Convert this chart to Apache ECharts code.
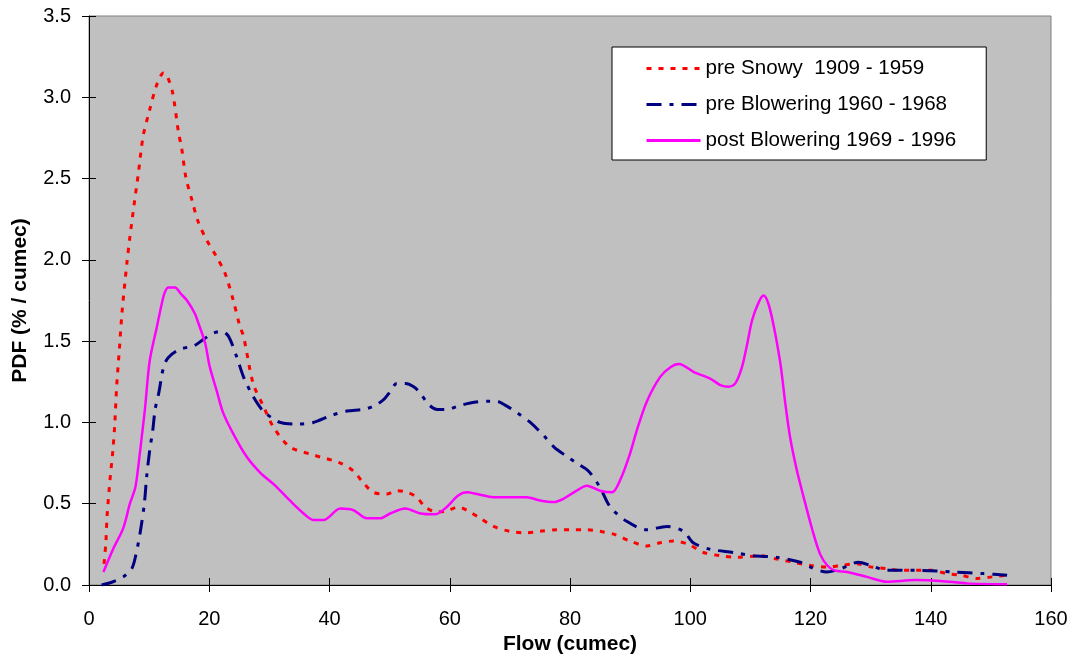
<!DOCTYPE html>
<html>
<head>
<meta charset="utf-8">
<script src="https://cdn.jsdelivr.net/npm/echarts@6/dist/echarts.min.js"></script>
<style>
  html, body { margin: 0; padding: 0; background: #fff; }
  #chart { width: 1074px; height: 664px; }
</style>
</head>
<body>
<div id="chart"></div>
<script>
// Flow duration PDFs for three periods of record
const seriesNames = ['pre Snowy  1909 - 1959', 'pre Blowering 1960 - 1968', 'post Blowering 1969 - 1996'];

const flowSnowy = [2.5, 2.8, 3.0, 3.5, 4.0, 4.3, 4.6, 5.05, 5.5, 6.3, 6.8, 7.5, 8.2, 9.0, 10.0, 11.3, 12.4, 13.0, 13.9, 14.9, 15.4, 16.1, 17.1, 18.2, 19.6, 21.2, 22.6, 24.0, 25.1, 25.7, 27.3, 29.0, 30.7, 33.4, 37.3, 41.8, 44.0, 45.6, 47.3, 49.5, 51.2, 52.9, 54.5, 55.9, 57.8, 59.5, 61.4, 62.8, 65.1, 67.3, 70.0, 72.5, 75.0, 77.8, 80.0, 82.8, 85.0, 87.5, 90.0, 92.8, 95.0, 97.2, 99.7, 102.2, 105.0, 107.8, 111.6, 114.4, 117.2, 120.0, 122.7, 125.0, 127.7, 130.2, 132.7, 135.0, 140.2, 142.7, 145.0, 147.7, 150.2, 152.7];
const pdfSnowy = [0.13, 0.26, 0.42, 0.65, 0.84, 1.0, 1.22, 1.45, 1.68, 1.98, 2.14, 2.34, 2.53, 2.76, 2.91, 3.08, 3.15, 3.13, 3.03, 2.78, 2.69, 2.51, 2.37, 2.23, 2.12, 2.02, 1.92, 1.75, 1.59, 1.53, 1.24, 1.10, 0.97, 0.85, 0.80, 0.75, 0.70, 0.63, 0.57, 0.56, 0.58, 0.57, 0.54, 0.48, 0.45, 0.455, 0.48, 0.46, 0.41, 0.36, 0.33, 0.32, 0.33, 0.34, 0.34, 0.34, 0.33, 0.31, 0.27, 0.24, 0.26, 0.27, 0.25, 0.20, 0.18, 0.17, 0.18, 0.16, 0.14, 0.12, 0.11, 0.12, 0.13, 0.11, 0.10, 0.09, 0.09, 0.07, 0.06, 0.04, 0.05, 0.06];

const flowPreBlowering = [2.1, 4.0, 5.7, 7.1, 7.7, 8.5, 9.2, 9.6, 10.1, 10.6, 11.0, 11.6, 12.4, 13.2, 15.1, 17.4, 19.0, 20.7, 22.1, 23.2, 24.6, 25.7, 27.3, 29.0, 31.8, 34.6, 37.3, 40.1, 42.9, 45.6, 47.3, 49.0, 50.1, 51.2, 52.6, 54.0, 55.1, 56.5, 57.9, 59.5, 61.4, 63.4, 66.2, 67.8, 69.5, 71.2, 73.4, 75.6, 77.3, 79.5, 81.1, 83.1, 85.0, 86.7, 89.5, 92.8, 96.1, 98.9, 100.5, 103.3, 107.2, 110.5, 114.4, 118.3, 120.0, 122.7, 125.0, 128.0, 130.0, 132.7, 137.7, 143.8, 148.8, 152.7];
const pdfPreBlowering = [0.0, 0.02, 0.05, 0.10, 0.17, 0.32, 0.50, 0.67, 0.83, 0.95, 1.08, 1.18, 1.34, 1.40, 1.45, 1.47, 1.51, 1.55, 1.56, 1.53, 1.40, 1.28, 1.16, 1.07, 1.00, 0.99, 1.00, 1.04, 1.07, 1.08, 1.10, 1.14, 1.19, 1.24, 1.24, 1.22, 1.18, 1.11, 1.08, 1.08, 1.10, 1.12, 1.13, 1.13, 1.10, 1.06, 1.00, 0.92, 0.85, 0.79, 0.75, 0.70, 0.60, 0.48, 0.39, 0.34, 0.36, 0.33, 0.26, 0.22, 0.20, 0.18, 0.17, 0.14, 0.11, 0.08, 0.10, 0.14, 0.12, 0.09, 0.09, 0.08, 0.07, 0.06];

const flowPostBlowering = [2.4, 4.0, 5.7, 6.8, 7.7, 8.2, 8.8, 9.3, 10.1, 11.3, 12.1, 12.6, 13.2, 14.3, 15.3, 16.3, 17.6, 18.2, 19.3, 20.1, 21.2, 22.3, 24.0, 26.2, 28.5, 30.7, 33.4, 35.7, 37.3, 39.0, 41.8, 44.0, 46.2, 48.4, 50.1, 52.6, 55.1, 57.6, 59.5, 61.4, 62.8, 64.5, 67.3, 70.6, 72.8, 75.0, 77.3, 78.9, 81.1, 82.8, 85.0, 87.0, 88.4, 90.0, 91.1, 92.8, 95.0, 96.7, 98.1, 100.6, 103.3, 105.0, 106.4, 107.5, 108.6, 109.4, 110.3, 111.4, 112.2, 113.0, 113.9, 115.0, 115.8, 116.6, 117.7, 119.0, 120.3, 121.6, 122.8, 124.0, 126.1, 129.4, 132.7, 137.4, 141.6, 146.0, 152.7];
const pdfPostBlowering = [0.08, 0.22, 0.35, 0.50, 0.60, 0.73, 0.92, 1.08, 1.38, 1.59, 1.73, 1.80, 1.83, 1.83, 1.79, 1.75, 1.67, 1.61, 1.49, 1.34, 1.20, 1.06, 0.93, 0.79, 0.69, 0.62, 0.52, 0.44, 0.40, 0.40, 0.47, 0.46, 0.41, 0.41, 0.44, 0.47, 0.44, 0.435, 0.48, 0.55, 0.57, 0.56, 0.54, 0.54, 0.54, 0.52, 0.51, 0.53, 0.58, 0.61, 0.58, 0.57, 0.65, 0.81, 0.95, 1.13, 1.28, 1.34, 1.36, 1.31, 1.27, 1.23, 1.22, 1.24, 1.34, 1.47, 1.63, 1.74, 1.78, 1.73, 1.59, 1.36, 1.12, 0.91, 0.71, 0.52, 0.34, 0.19, 0.12, 0.09, 0.08, 0.05, 0.02, 0.03, 0.025, 0.01, 0.005];

const xTicks = { min: 0, max: 160, interval: 20 };
const yTicks = { min: 0, max: 3.5, interval: 0.5 };

function pairs(xs, ys) { return xs.map((x, i) => [x, ys[i]]); }

const FONT = '"Liberation Sans", Arial, sans-serif';
const chart = echarts.init(document.getElementById('chart'), null, { renderer: 'canvas' });

const baseX = {
  type: 'value', min: xTicks.min, max: xTicks.max, interval: xTicks.interval,
  position: 'bottom', gridIndex: 0
};
const baseY = {
  type: 'value', min: yTicks.min, max: yTicks.max, interval: yTicks.interval,
  position: 'left', gridIndex: 0
};

chart.setOption({
  animation: false,
  backgroundColor: '#ffffff',
  grid: {
    left: 89, right: 23, top: 16, bottom: 79,
    show: true, backgroundColor: '#C0C0C0', borderColor: '#808080', borderWidth: 1
  },
  legend: {
    orient: 'vertical',
    left: 612, top: 47,
    backgroundColor: '#ffffff', borderColor: '#000000', borderWidth: 1,
    padding: [11, 30, 9, 33],
    itemWidth: 54, itemHeight: 14, itemGap: 15,
    itemStyle: { opacity: 0 },
    lineStyle: { width: 3 },
    textStyle: { fontFamily: FONT, fontSize: 20.6, color: '#000' },
    data: seriesNames
  },
  xAxis: [
    Object.assign({}, baseX, {
      name: 'Flow (cumec)', nameLocation: 'middle', nameGap: 37,
      nameTextStyle: { fontFamily: FONT, fontSize: 21, fontWeight: 'bold', color: '#000' },
      axisLine: { show: true, onZero: false, lineStyle: { color: '#000', width: 1 } },
      axisTick: { show: true, inside: false, length: 7, lineStyle: { color: '#000' } },
      axisLabel: { fontFamily: FONT, fontSize: 20, color: '#000', margin: 24 },
      splitLine: { show: false }
    }),
    Object.assign({}, baseX, {
      axisLine: { show: false },
      axisTick: { show: true, inside: true, length: 7, lineStyle: { color: '#000' } },
      axisLabel: { show: false },
      splitLine: { show: false }
    })
  ],
  yAxis: [
    Object.assign({}, baseY, {
      name: 'PDF (% / cumec)', nameLocation: 'middle', nameGap: 58, nameRotate: 90,
      nameTextStyle: { fontFamily: FONT, fontSize: 21, fontWeight: 'bold', color: '#000' },
      axisLine: { show: true, onZero: false, lineStyle: { color: '#000', width: 1 } },
      axisTick: { show: true, inside: false, length: 7, lineStyle: { color: '#000' } },
      axisLabel: { fontFamily: FONT, fontSize: 20, color: '#000', margin: 18,
        formatter: v => v.toFixed(1) },
      splitLine: { show: false }
    }),
    Object.assign({}, baseY, {
      axisLine: { show: false },
      axisTick: { show: true, inside: true, length: 7, lineStyle: { color: '#000' } },
      axisLabel: { show: false },
      splitLine: { show: false }
    })
  ],
  series: [
    {
      name: seriesNames[0], type: 'line', xAxisIndex: 0, yAxisIndex: 0,
      data: pairs(flowSnowy, pdfSnowy), showSymbol: false, symbol: 'none', smooth: 0.3,
      itemStyle: { color: '#FF0000' },
      lineStyle: { color: '#FF0000', width: 3, type: [5, 7] }
    },
    {
      name: seriesNames[1], type: 'line', xAxisIndex: 0, yAxisIndex: 0,
      data: pairs(flowPreBlowering, pdfPreBlowering), showSymbol: false, symbol: 'none', smooth: 0.3,
      itemStyle: { color: '#000080' },
      lineStyle: { color: '#000080', width: 3, type: [15, 8, 4, 8] }
    },
    {
      name: seriesNames[2], type: 'line', xAxisIndex: 0, yAxisIndex: 0,
      data: pairs(flowPostBlowering, pdfPostBlowering), showSymbol: false, symbol: 'none', smooth: 0.3,
      itemStyle: { color: '#FF00FF' },
      lineStyle: { color: '#FF00FF', width: 2.5, type: 'solid' }
    }
  ]
});
</script>
</body>
</html>
